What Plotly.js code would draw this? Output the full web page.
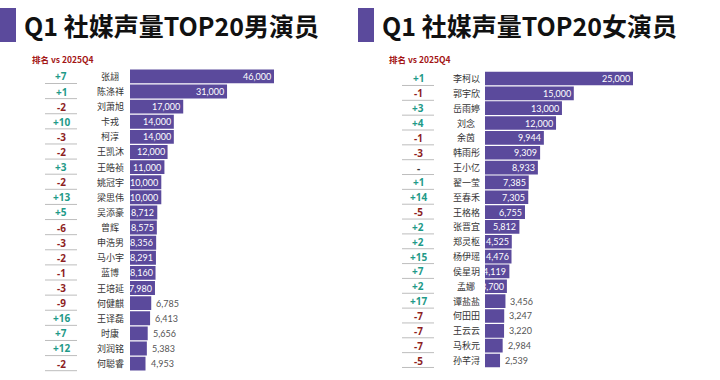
<!DOCTYPE html>
<html>
<head>
<meta charset="utf-8">
<script src="https://cdn.plot.ly/plotly-3.0.1.min.js"></script>
<style>html,body{margin:0;padding:0;background:#fff;}#chart{width:720px;height:380px;}</style>
</head>
<body>
<div id="chart"></div>
<script>
// ---- data ----
const maleTitle = "Q1 社媒声量TOP20男演员";
const femaleTitle = "Q1 社媒声量TOP20女演员";
const subTitle = "排名 vs 2025Q4";

const maleNames = ["张翃","陈涤祥","刘萧旭","卡戎","柯淳","王凯沐","王皓祯","姚冠宇","梁思伟","吴添豪","曾辉","申浩男","马小宇","蓝博","王培延","何健麒","王译磊","时康","刘润铭","何聪睿"];
const maleValues = [46000,31000,17000,14000,14000,12000,11000,10000,10000,8712,8575,8356,8291,8160,7980,6785,6413,5656,5383,4953];
const maleChange = ["+7","+1","-2","+10","-3","-2","+3","-2","+13","+5","-6","-3","-2","-1","-3","-9","+16","+7","+12","-2"];

const femaleNames = ["李柯以","郭宇欣","岳雨婷","刘念","余茵","韩雨彤","王小亿","翟一莹","至春禾","王格格","张晋宜","郑灵枢","杨伊瑶","侯星玥","孟娜","谭盐盐","何田田","王云云","马秋元","孙芊浔"];
const femaleValues = [25000,15000,13000,12000,9944,9309,8933,7385,7305,6755,5812,4525,4476,4119,3700,3456,3247,3220,2984,2539];
const femaleChange = ["+1","-1","+3","+4","-1","-3","-","+1","+14","-5","+2","+2","+15","+7","+2","+17","-7","-7","-7","-5"];

// ---- styles ----
const W = 720, H = 380;
const barColor = "#5b4a9c";
const posColor = "#1f9a88";
const negColor = "#8e1f1f";
const cjk = "Noto Sans CJK SC, Noto Sans, sans-serif";
const numFont = "Lato, sans-serif";
const px = v => v / W;
const py = v => 1 - v / H;
const insideMin = {male: 7500, female: 3600};

function fmt(v){ return v.toLocaleString("en-US"); }
function chColor(c){ return c.startsWith("+") ? posColor : (c.startsWith("-") && c.length > 1 ? negColor : "#333"); }

function barTrace(names, values, xa, ya){
  return {
    type: "bar", orientation: "h",
    x: values, y: names, xaxis: xa, yaxis: ya,
    marker: {color: barColor},
    hoverinfo: "skip",
    showlegend: false
  };
}

const data = [
  barTrace(maleNames, maleValues, "x", "y"),
  barTrace(femaleNames, femaleValues, "x2", "y2")
];

const annotations = [];
const shapes = [];

function panel(names, values, changes, xref, yref, thr, nameX, chX, lineX0, lineX1, titleX, subX, titleText, markX){
  names.forEach((n, i) => {
    const inside = values[i] >= thr;
    annotations.push({xref: xref, yref: yref, x: values[i], y: n, text: fmt(values[i]), showarrow: false,
      xanchor: inside ? "right" : "left", xshift: inside ? -1 : 3, yanchor: "middle",
      font: {family: numFont, size: 9, color: inside ? "#ffffff" : "#555555"}});
    annotations.push({xref: "paper", yref: yref, x: px(nameX), y: n, text: n, showarrow: false,
      xanchor: "center", yanchor: "middle", font: {family: cjk, size: 9, color: "#333"}});
    annotations.push({xref: "paper", yref: yref, x: px(chX), y: n, text: "<b>" + changes[i] + "</b>", showarrow: false,
      xanchor: "center", yanchor: "middle", font: {family: "Open Sans, sans-serif", size: 10, color: chColor(changes[i])}});
    shapes.push({type: "line", xref: "paper", yref: yref, x0: px(lineX0), x1: px(lineX1), y0: i + 0.47, y1: i + 0.47,
      line: {color: "#bdbdbd", width: 1}});
  });
  annotations.push({xref: "paper", yref: "paper", x: px(titleX), y: py(25), text: "<b>" + titleText + "</b>", showarrow: false,
    xanchor: "left", yanchor: "middle", font: {family: cjk, size: 25, color: "#111"}});
  annotations.push({xref: "paper", yref: "paper", x: px(subX), y: py(59), text: "<b>" + subTitle + "</b>", showarrow: false,
    xanchor: "left", yanchor: "middle", font: {family: cjk, size: 8.5, color: "#a31515"}});
  shapes.push({type: "rect", xref: "paper", yref: "paper", x0: px(markX), x1: px(markX + 16), y0: py(42), y1: py(8),
    fillcolor: "#5b4a9c", line: {width: 0}});
}

panel(maleNames, maleValues, maleChange, "x", "y", insideMin.male, 110, 61, 45, 77, 22, 30, maleTitle, 0);
panel(femaleNames, femaleValues, femaleChange, "x2", "y2", insideMin.female, 466, 418, 402, 434, 380, 387, femaleTitle, 358);

const hidden = {visible: false, fixedrange: true};
const layout = {
  width: W, height: H,
  margin: {l: 0, r: 0, t: 0, b: 0},
  paper_bgcolor: "#ffffff", plot_bgcolor: "rgba(0,0,0,0)",
  bargap: 0.08,
  xaxis: Object.assign({}, hidden, {domain: [px(130), px(350)], range: [0, 46000 * 220 / 144], anchor: "y"}),
  yaxis: Object.assign({}, hidden, {domain: [py(372.6), py(67.4)], autorange: "reversed", type: "category", anchor: "x"}),
  xaxis2: Object.assign({}, hidden, {domain: [px(485), px(712)], range: [0, 25000 * 227 / 148], anchor: "y2"}),
  yaxis2: Object.assign({}, hidden, {domain: [py(369.5), py(69.5)], autorange: "reversed", type: "category", anchor: "x2"}),
  annotations: annotations,
  shapes: shapes
};

Plotly.newPlot("chart", data, layout, {displayModeBar: false, staticPlot: true});
</script>
</body>
</html>
